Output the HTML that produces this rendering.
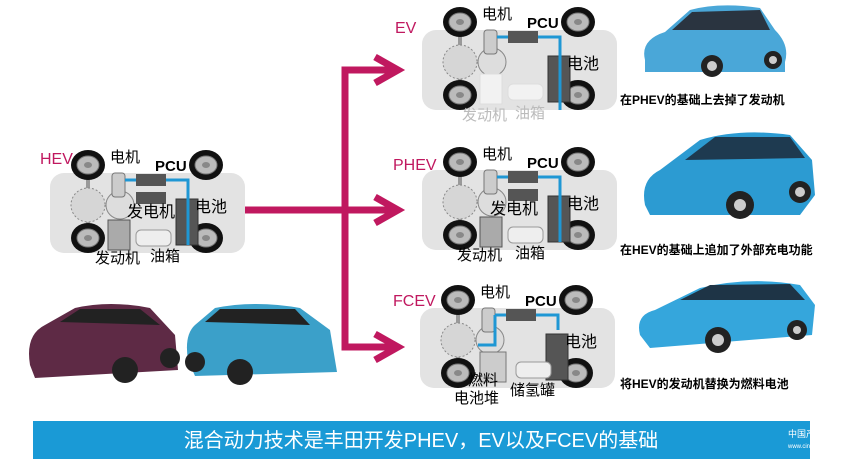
<!DOCTYPE html>
<html><head><meta charset="utf-8"><style>
html,body{margin:0;padding:0;background:#fff;}
svg{display:block;font-family:"Liberation Sans","Noto Sans CJK SC",sans-serif;}
</style></head><body>
<svg width="865" height="459" viewBox="0 0 865 459" xmlns="http://www.w3.org/2000/svg">
<defs>
<g id="wheel">
  <ellipse cx="0" cy="0" rx="17" ry="15" fill="#111"/>
  <ellipse cx="0" cy="0" rx="11" ry="9" fill="#bbb" stroke="#777"/>
  <ellipse cx="0" cy="0" rx="4" ry="3" fill="#888"/>
</g>
<g id="base">
  <rect x="-38" y="8" width="195" height="80" rx="14" fill="#e3e3e3"/>
  <line x1="0" y1="0" x2="0" y2="73" stroke="#999" stroke-width="4"/>
  <circle cx="0" cy="40" r="17" fill="#d6d6d6" stroke="#888" stroke-dasharray="2 2"/>
  <circle cx="32" cy="40" r="14" fill="#ddd" stroke="#888"/>
  <rect x="24" y="8" width="13" height="24" rx="3" fill="#ccc" stroke="#777"/>
  <use href="#wheel" x="0" y="0"/><use href="#wheel" x="118" y="0"/>
  <use href="#wheel" x="0" y="73"/><use href="#wheel" x="118" y="73"/>
  <rect x="88" y="34" width="22" height="46" fill="#555" stroke="#333"/>
  <text x="22" y="-3" font-size="15">电机</text>
  <text x="67" y="6" font-size="15" font-weight="bold">PCU</text>
  <text x="107" y="47" font-size="16">电池</text>
</g>
</defs>

<!-- magenta connectors -->
<g stroke="#c0185f" stroke-width="7" fill="none">
  <line x1="240" y1="210" x2="398" y2="210"/>
  <path d="M398 70 H345 V347 H398"/>
  <path d="M375 57 L398 70 L375 83"/>
  <path d="M375 197 L398 210 L375 223"/>
  <path d="M375 334 L398 347 L375 360"/>
</g>

<!-- HEV -->
<g transform="translate(88,165)">
  <use href="#base"/>
  <path d="M37 15 H100 V80" stroke="#1f97d4" stroke-width="3" fill="none"/>
  <rect x="48" y="9" width="30" height="12" fill="#555"/>
  <rect x="48" y="27" width="30" height="12" fill="#555"/>
  <rect x="20" y="55" width="22" height="30" fill="#aaa" stroke="#555"/>
  <rect x="48" y="65" width="35" height="16" rx="5" fill="#eee" stroke="#999"/>
  <text x="39" y="52" font-size="16">发电机</text>
  <text x="7" y="98" font-size="15">发动机</text>
  <text x="62" y="96" font-size="15">油箱</text>
</g>
<text x="40" y="164" font-size="16" fill="#c0185f">HEV</text>

<!-- EV -->
<g transform="translate(460,22)">
  <use href="#base"/>
  <path d="M37 15 H100 V88" stroke="#1f97d4" stroke-width="3" fill="none"/>
  <rect x="48" y="9" width="30" height="12" fill="#555"/>
  <rect x="20" y="52" width="22" height="30" fill="#f2f2f2" stroke="#ddd"/>
  <rect x="48" y="62" width="35" height="16" rx="5" fill="#f2f2f2" stroke="#ddd"/>
  <text x="2" y="98" font-size="15" fill="#bbb">发动机</text>
  <text x="55" y="96" font-size="15" fill="#bbb">油箱</text>
</g>
<text x="395" y="33" font-size="16" fill="#c0185f">EV</text>

<!-- PHEV -->
<g transform="translate(460,162)">
  <use href="#base"/>
  <path d="M37 15 H100 V80" stroke="#1f97d4" stroke-width="3" fill="none"/>
  <rect x="48" y="9" width="30" height="12" fill="#555"/>
  <rect x="48" y="27" width="30" height="12" fill="#555"/>
  <rect x="20" y="55" width="22" height="30" fill="#aaa" stroke="#555"/>
  <rect x="48" y="65" width="35" height="16" rx="5" fill="#eee" stroke="#999"/>
  <text x="30" y="52" font-size="16">发电机</text>
  <text x="-3" y="98" font-size="15">发动机</text>
  <text x="55" y="96" font-size="15">油箱</text>
</g>
<text x="393" y="170" font-size="16" fill="#c0185f">PHEV</text>

<!-- FCEV -->
<g transform="translate(458,300)">
  <use href="#base"/>
  <path d="M37 15 H100 V30 M37 15 V45 H20" stroke="#1f97d4" stroke-width="3" fill="none"/>
  <rect x="48" y="9" width="30" height="12" fill="#555"/>
  <rect x="22" y="52" width="26" height="30" fill="#ccc" stroke="#777"/>
  <rect x="58" y="62" width="35" height="16" rx="5" fill="#eee" stroke="#999"/>
  <text x="10" y="85" font-size="15">燃料</text>
  <text x="-4" y="103" font-size="15">电池堆</text>
  <text x="52" y="95" font-size="15">储氢罐</text>
</g>
<text x="393" y="306" font-size="16" fill="#c0185f">FCEV</text>

<!-- cars on the right -->
<g>
  <path d="M645 60 Q640 40 665 32 L690 10 Q720 2 760 8 L775 30 Q790 45 785 62 L785 72 L645 72 Z" fill="#4aa7d8"/>
  <path d="M672 30 L692 12 L760 10 L770 30 Z" fill="#2a3440"/>
  <circle cx="712" cy="66" r="11" fill="#222"/><circle cx="773" cy="60" r="9" fill="#222"/>
  <circle cx="712" cy="66" r="5" fill="#ccc"/><circle cx="773" cy="60" r="4" fill="#ccc"/>
</g>
<text x="620" y="104" font-size="12" font-weight="bold">在PHEV的基础上去掉了发动机</text>

<g>
  <path d="M645 205 Q640 180 660 170 L700 140 Q740 128 790 135 L812 160 L815 195 L800 215 L650 215 Z" fill="#2c9bd2"/>
  <path d="M685 160 L715 137 L790 137 L805 158 Z" fill="#1e3a50"/>
  <circle cx="740" cy="205" r="14" fill="#222"/><circle cx="800" cy="192" r="11" fill="#222"/>
  <circle cx="740" cy="205" r="6" fill="#ccc"/><circle cx="800" cy="192" r="5" fill="#ccc"/>
</g>
<text x="620" y="254" font-size="12" font-weight="bold">在HEV的基础上追加了外部充电功能</text>

<g>
  <path d="M640 335 Q635 315 655 310 L700 288 Q750 276 800 285 L815 305 L812 335 L650 348 Z" fill="#35a6dc"/>
  <path d="M680 300 L710 285 L790 284 L805 300 Z" fill="#1e3446"/>
  <circle cx="718" cy="340" r="13" fill="#222"/><circle cx="797" cy="330" r="10" fill="#222"/>
  <circle cx="718" cy="340" r="6" fill="#ccc"/><circle cx="797" cy="330" r="4" fill="#ccc"/>
</g>
<text x="620" y="388" font-size="12" font-weight="bold">将HEV的发动机替换为燃料电池</text>

<!-- bottom-left cars -->
<g>
  <path d="M30 365 Q25 335 45 325 L75 308 Q110 300 150 308 L175 335 L178 370 L35 378 Z" fill="#5e2a45"/>
  <path d="M60 322 L80 309 L140 309 L160 325 Z" fill="#222"/>
  <circle cx="125" cy="370" r="13" fill="#222"/><circle cx="170" cy="358" r="10" fill="#222"/>
  <path d="M188 360 Q184 335 195 325 L215 308 Q255 300 300 308 L330 330 L337 372 L195 376 Z" fill="#3ba0c9"/>
  <path d="M205 322 L220 309 L295 309 L310 325 Z" fill="#222"/>
  <circle cx="195" cy="362" r="10" fill="#222"/><circle cx="240" cy="372" r="13" fill="#222"/>
</g>

<!-- bottom banner -->
<rect x="33" y="421" width="777" height="38" fill="#1a9ad6"/>
<text x="421" y="447" font-size="20" fill="#fff" text-anchor="middle">混合动力技术是丰田开发PHEV，EV以及FCEV的基础</text>
<text x="788" y="437" font-size="9" fill="#fff">中国产业</text>
<text x="788" y="448" font-size="6" fill="#fff">www.cin</text>
</svg>
</body></html>
